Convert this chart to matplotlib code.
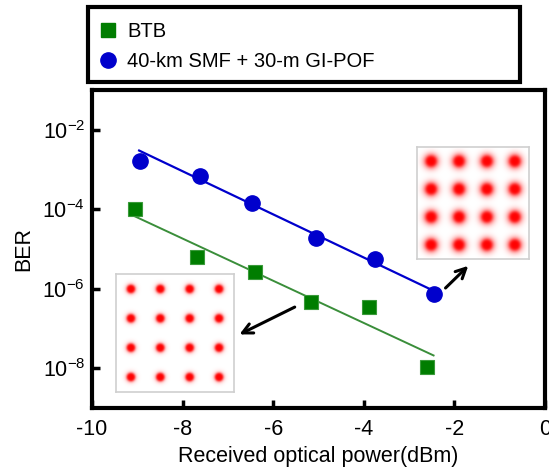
import numpy as np
import matplotlib
matplotlib.use("Agg")
import matplotlib.pyplot as plt
from matplotlib.patches import Rectangle
from matplotlib.lines import Line2D

plt.rcParams['font.family'] = ['Liberation Sans', 'DejaVu Sans']
plt.rcParams['mathtext.fontset'] = 'custom'
plt.rcParams['mathtext.rm'] = 'Liberation Sans'
plt.rcParams['mathtext.it'] = 'Liberation Sans'

# ---- data ----
btb_power = [-9.05, -7.68, -6.40, -5.16, -3.88, -2.60]
btb_ber = [1.0e-4, 6.3e-6, 2.6e-6, 4.7e-7, 3.4e-7, 1.05e-8]
smf_power = [-8.94, -7.61, -6.46, -5.05, -3.75, -2.46]
smf_ber = [1.6e-3, 7.0e-4, 1.4e-4, 1.9e-5, 5.6e-6, 7.5e-7]
btb_fit_power = [-9.05, -2.46]
btb_fit_ber = [6.6e-5, 2.1e-8]
smf_fit_power = [-8.96, -2.46]
smf_fit_ber = [3.0e-3, 8.9e-7]
x_ticks = [-10, -8, -6, -4, -2, 0]
y_ticks = [1e-2, 1e-4, 1e-6, 1e-8]
y_tick_labels = [r'$10^{-2}$', r'$10^{-4}$', r'$10^{-6}$', r'$10^{-8}$']
qam_levels = [-3, -1, 1, 3]
spread_smf = 0.34   # cluster spread, right constellation
spread_btb = 0.24   # cluster spread, left constellation
legend_labels = ['BTB', '40-km SMF + 30-m GI-POF']

W, H = 549, 470
fig = plt.figure(figsize=(W / 100, H / 100), dpi=100)

def fbox(x0, y0, x1, y1):
    return [x0 / W, 1 - y1 / H, (x1 - x0) / W, (y1 - y0) / H]

ax = fig.add_axes(fbox(92, 90, 545, 408))
ax.set_yscale('log')
ax.set_xlim(-10, 0)
ax.set_ylim(1e-9, 1e-1)

blue = '#0000cc'
green = '#007d00'
ax.plot(smf_fit_power, smf_fit_ber, color=blue, lw=1.6, zorder=2)
ax.plot(btb_fit_power, btb_fit_ber, color='#3a8e3a', lw=1.4, zorder=2)
ax.plot(smf_power, smf_ber, 'o', color=blue, ms=11, mec=blue, zorder=3)
ax.plot(btb_power, btb_ber, 's', color=green, ms=10.5, mec='#3a9a3a', mew=0.8, zorder=3)

ax.set_xticks(x_ticks)
ax.set_xticklabels([str(t) for t in x_ticks])
ax.set_yticks(y_ticks)
ax.set_yticklabels(y_tick_labels)
ax.minorticks_off()
ax.tick_params(direction='in', length=6, width=2.5, labelsize=15.5)
ax.tick_params(axis='x', pad=8)
ax.tick_params(axis='y', pad=5)
for s in ax.spines.values():
    s.set_linewidth(3)
ax.set_xlabel('Received optical power(dBm)', fontsize=15.5, labelpad=4)
ax.set_ylabel('BER', fontsize=15.5, labelpad=6)

# constellation insets
def constellation(axpos, spread, outer, core):
    iax = ax.inset_axes(axpos)
    g = np.linspace(-4, 4, 240)
    X, Y = np.meshgrid(g, g)
    dens = np.zeros_like(X)
    for a in qam_levels:
        for b in qam_levels:
            r2 = (X - a) ** 2 + (Y - b) ** 2
            dens += outer * np.exp(-r2 / (2 * spread ** 2))
            dens += core * np.exp(-r2 / (2 * (spread * 0.55) ** 2))
    alpha = 1 - np.exp(-3.5 * dens)
    img = np.zeros(X.shape + (4,))
    img[..., 0] = 1.0
    img[..., 3] = np.clip(alpha, 0, 1)
    iax.imshow(img, extent=[-4, 4, -4, 4], origin='lower', interpolation='bilinear')
    iax.set_xticks([]); iax.set_yticks([])
    for s in iax.spines.values():
        s.set_color('#cfcfcf'); s.set_linewidth(1.2)
    return iax

constellation([(413 - 92) / 453, (408 - 259) / 318, 120 / 453, 112 / 318], spread_smf, 0.35, 1.3)
constellation([(115 - 92) / 453, (408 - 392) / 318, 119 / 453, 118 / 318], spread_btb, 0.15, 1.8)

# arrows
ax.annotate('', xy=(-1.65, 10 ** -5.375), xytext=(-2.24, 10 ** -6.03),
            arrowprops=dict(arrowstyle='->', color='black', lw=2.2, mutation_scale=18))
ax.annotate('', xy=(-6.80, 10 ** -7.18), xytext=(-5.47, 10 ** -6.43),
            arrowprops=dict(arrowstyle='->', color='black', lw=2.2, mutation_scale=18))

# legend box above axes
fig.patches.append(Rectangle((88 / W, 1 - 82 / H), (520 - 88) / W, 75 / H,
                             transform=fig.transFigure, fill=False, lw=3, ec='black'))
handles = [Line2D([], [], ls='none', marker='s', color=green, ms=10),
           Line2D([], [], ls='none', marker='o', color=blue, ms=11)]
fig.legend(handles, legend_labels, loc='upper left', bbox_to_anchor=(100 / W, 1 - 22 / H),
           frameon=False, fontsize=14.5, handlelength=0.8, handletextpad=0.55,
           labelspacing=0.55, borderpad=0, borderaxespad=0)

fig.savefig('out.png', dpi=100)
